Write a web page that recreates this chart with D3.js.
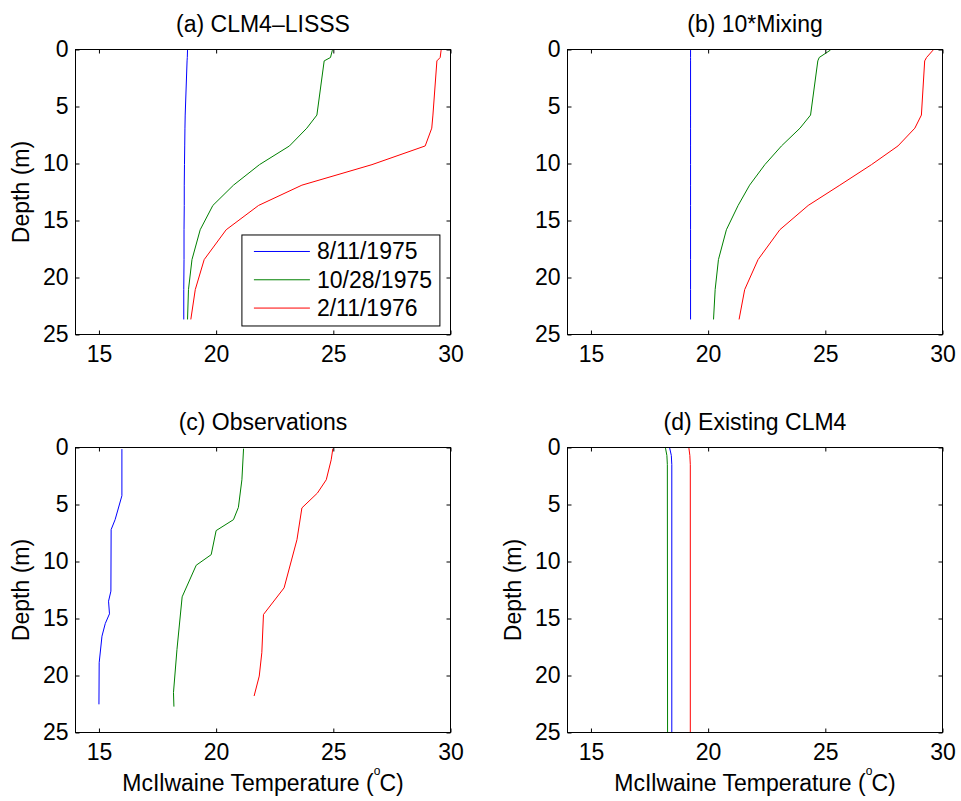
<!DOCTYPE html>
<html>
<head>
<meta charset="utf-8">
<script src="https://cdn.jsdelivr.net/npm/d3@7"></script>
<style>
  body { margin: 0; background: #fff; }
  svg text { font-family: "Liberation Sans", Arial, Helvetica, sans-serif; fill: #000; }
</style>
</head>
<body>
<div id="chart"></div>
<script>
// series labels and colours (legend order)
const seriesNames = ['8/11/1975', '10/28/1975', '2/11/1976']
const seriesColors = ['#0000ff', '#008000', '#ff0000']

const panelTitles = ['(a) CLM4\u2013LISSS', '(b) 10*Mixing', '(c) Observations', '(d) Existing CLM4']
const xTicks = [15, 20, 25, 30]
const yTicks = [0, 5, 10, 15, 20, 25]

// model layer depths (m), panels a and b
const modelDepth = [0.05, 0.7, 1.0, 5.75, 6.9, 8.46, 10.1, 11.9, 13.68, 15.81, 18.43, 21.06, 23.68]

// (a) CLM4-LISSS temperatures
const aBlue = [18.78, 18.77, 18.76, 18.68, 18.67, 18.66, 18.65, 18.64, 18.64, 18.63, 18.63, 18.62, 18.62]
const aGreen = [24.96, 24.88, 24.61, 24.3, 23.87, 23.13, 21.85, 20.74, 19.86, 19.32, 18.97, 18.82, 18.78]
const aRed = [29.6, 29.56, 29.42, 29.25, 29.2, 28.92, 26.65, 23.66, 21.81, 20.43, 19.49, 19.11, 18.92]

// (b) 10*Mixing temperatures
const bBlue = [19.25, 19.25, 19.25, 19.25, 19.25, 19.25, 19.25, 19.25, 19.25, 19.25, 19.25, 19.25, 19.25]
const bGreen = [25.22, 24.74, 24.68, 24.37, 23.92, 23.13, 22.42, 21.77, 21.28, 20.78, 20.44, 20.3, 20.23]
const bRed = [29.6, 29.32, 29.24, 29.1, 28.82, 28.1, 26.97, 25.62, 24.27, 23.06, 22.13, 21.56, 21.32]

// (c) observations, each profile has its own depths
const cBlueDepth = [0.14, 4.23, 6.33, 7.2, 12.6, 13.48, 14.59, 15.44, 16.55, 18.88, 22.53]
const cBlueTemp = [15.98, 15.98, 15.69, 15.52, 15.51, 15.41, 15.45, 15.27, 15.13, 15.01, 15.0]
const cGreenDepth = [0.1, 2.83, 5.25, 6.33, 7.29, 9.4, 10.33, 13.1, 17.71, 21.5, 22.73]
const cGreenTemp = [21.17, 21.1, 20.95, 20.74, 20.0, 19.79, 19.15, 18.55, 18.33, 18.18, 18.2]
const cRedDepth = [0.1, 1.08, 2.83, 4.0, 5.3, 8.08, 12.31, 14.65, 18.0, 20.05, 21.8]
const cRedTemp = [24.98, 24.91, 24.7, 24.32, 23.66, 23.45, 22.9, 22.02, 21.95, 21.84, 21.62]

// (d) existing CLM4
const dDepth = [0.05, 0.7, 1.5, 25]
const dBlue = [18.36, 18.43, 18.45, 18.45]
const dGreen = [18.18, 18.24, 18.26, 18.27]
const dRed = [19.18, 19.22, 19.24, 19.24]

const zip = (depths, temps) => depths.map((d, i) => ({ depth: d, temp: temps[i] }))

const panels = [
  { title: panelTitles[0], left: 75.5, top: 49.5, ylabel: true, xlabel: false, legend: true,
    series: [zip(modelDepth, aBlue), zip(modelDepth, aGreen), zip(modelDepth, aRed)] },
  { title: panelTitles[1], left: 567.5, top: 49.5, ylabel: false, xlabel: false, legend: false,
    series: [zip(modelDepth, bBlue), zip(modelDepth, bGreen), zip(modelDepth, bRed)] },
  { title: panelTitles[2], left: 75.5, top: 447.5, ylabel: true, xlabel: true, legend: false,
    series: [zip(cBlueDepth, cBlueTemp), zip(cGreenDepth, cGreenTemp), zip(cRedDepth, cRedTemp)] },
  { title: panelTitles[3], left: 567.5, top: 447.5, ylabel: true, xlabel: true, legend: false,
    series: [zip(dDepth, dBlue), zip(dDepth, dGreen), zip(dDepth, dRed)] }
]

const width = 961
const height = 801
const pw = 375
const ph = 285
const fontSize = 23
const tickLen = 4

const svg = d3.select('#chart').append('svg')
  .attr('width', width)
  .attr('height', height)

svg.append('rect')
  .attr('width', width)
  .attr('height', height)
  .attr('fill', '#fff')

const x = d3.scaleLinear().domain([14, 30]).range([0, pw])
const y = d3.scaleLinear().domain([0, 25]).range([0, ph])

const line = d3.line()
  .x(d => x(d.temp))
  .y(d => y(d.depth))

const styleAxis = (g) => {
  g.select('.domain').remove()
  g.selectAll('line').attr('stroke', '#000')
  g.selectAll('text').attr('font-size', fontSize).attr('fill', '#000')
}

panels.forEach(p => {
  const g = svg.append('g').attr('transform', `translate(${p.left}, ${p.top})`)

  // data lines
  p.series.forEach((s, i) => {
    g.append('path')
      .datum(s)
      .attr('d', line)
      .attr('fill', 'none')
      .attr('stroke', seriesColors[i])
      .attr('stroke-width', 1)
  })

  // inward ticks on all four sides
  g.append('g')
    .attr('transform', `translate(0, ${ph})`)
    .call(d3.axisBottom(x).tickValues(xTicks).tickSizeInner(-tickLen).tickSizeOuter(0).tickPadding(11))
    .call(styleAxis)

  g.append('g')
    .call(d3.axisTop(x).tickValues(xTicks).tickSizeInner(-tickLen).tickSizeOuter(0).tickFormat(''))
    .call(styleAxis)

  g.append('g')
    .call(d3.axisLeft(y).tickValues(yTicks).tickSizeInner(-tickLen).tickSizeOuter(0).tickPadding(7))
    .call(styleAxis)

  g.append('g')
    .attr('transform', `translate(${pw}, 0)`)
    .call(d3.axisRight(y).tickValues(yTicks).tickSizeInner(-tickLen).tickSizeOuter(0).tickFormat(''))
    .call(styleAxis)

  g.append('rect')
    .attr('width', pw)
    .attr('height', ph)
    .attr('fill', 'none')
    .attr('stroke', '#000')
    .attr('stroke-width', 1)

  g.append('text')
    .attr('x', pw / 2)
    .attr('y', -18)
    .attr('text-anchor', 'middle')
    .attr('font-size', fontSize)
    .text(p.title)

  if (p.ylabel) {
    g.append('text')
      .attr('transform', `translate(-47, ${ph / 2}) rotate(-90)`)
      .attr('text-anchor', 'middle')
      .attr('font-size', fontSize)
      .text('Depth (m)')
  }

  if (p.xlabel) {
    const t = g.append('text')
      .attr('x', pw / 2)
      .attr('y', ph + 58)
      .attr('text-anchor', 'middle')
      .attr('font-size', fontSize)
    t.append('tspan').text('McIlwaine Temperature (')
    t.append('tspan').attr('dy', -16).attr('font-size', 12).text('o')
    t.append('tspan').attr('dy', 16).attr('dx', -1).text('C)')
  }

  if (p.legend) {
    const lg = g.append('g').attr('transform', `translate(${x(21.1)}, ${y(16.27)})`)
    lg.append('rect')
      .attr('width', 198)
      .attr('height', 91)
      .attr('fill', '#fff')
      .attr('stroke', '#000')
      .attr('stroke-width', 1)
    seriesNames.forEach((name, i) => {
      const cy = 16.5 + i * 28.3
      lg.append('line')
        .attr('x1', 12).attr('x2', 68)
        .attr('y1', cy).attr('y2', cy)
        .attr('stroke', seriesColors[i])
        .attr('stroke-width', 1)
      lg.append('text')
        .attr('x', 75)
        .attr('y', cy + 8)
        .attr('font-size', fontSize)
        .text(name)
    })
  }
})
</script>
</body>
</html>
